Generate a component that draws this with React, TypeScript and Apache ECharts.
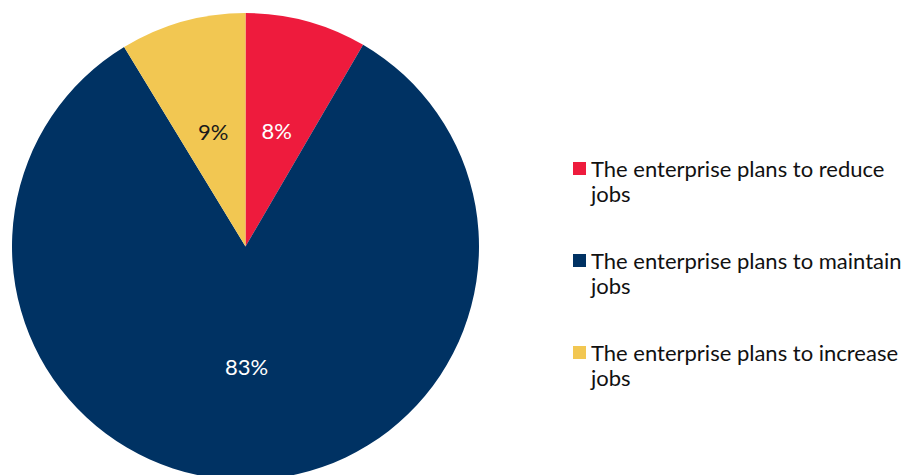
import React, { useEffect, useRef } from "react";
import * as echarts from "echarts";

const categories = [
  "The enterprise plans to reduce jobs",
  "The enterprise plans to maintain jobs",
  "The enterprise plans to increase jobs",
];
// shares; labels show them rounded
const values = [8.4, 82.9, 8.7];
const colors = ["#EE1B3D", "#003263", "#F2C752"];
const labelColors = ["#ffffff", "#ffffff", "#1a1a1a"];

const FONT = "Lato, 'Open Sans', sans-serif";

export default function App() {
  const ref = useRef<HTMLDivElement>(null);
  useEffect(() => {
    document.body.style.margin = "0";
    const chart = echarts.init(ref.current!, undefined, { renderer: "svg" });
    chart.setOption({
      animation: false,
      backgroundColor: "#ffffff",
      legend: {
        orient: "vertical",
        left: 573,
        top: 131,
        padding: 0,
        itemWidth: 13,
        itemHeight: 13,
        itemGap: 17,
        selectedMode: false,
        icon: "rect",
        formatter: (name: string) => " \n" + name.replace(/ jobs$/, "\njobs"),
        textStyle: {
          fontFamily: FONT,
          fontSize: 22,
          lineHeight: 25,
          color: "#111111",
        },
        data: categories,
      },
      series: [
        {
          type: "pie",
          center: [245.5, 246.5],
          radius: 233.5,
          startAngle: 90,
          clockwise: true,
          label: {
            show: true,
            position: "inside",
            fontFamily: FONT,
            fontSize: 22,
            formatter: (p: any) => Math.round(p.value) + "%",
          },
          labelLine: { show: false },
          emphasis: { disabled: true },
          data: categories.map((c, i) => ({
            name: c,
            value: values[i],
            itemStyle: { color: colors[i] },
            label: { color: labelColors[i] },
          })),
        },
      ],
    });
    return () => chart.dispose();
  }, []);
  return (
    <div
      ref={ref}
      style={{ position: "absolute", left: 0, top: 0, width: 905, height: 475 }}
    />
  );
}
